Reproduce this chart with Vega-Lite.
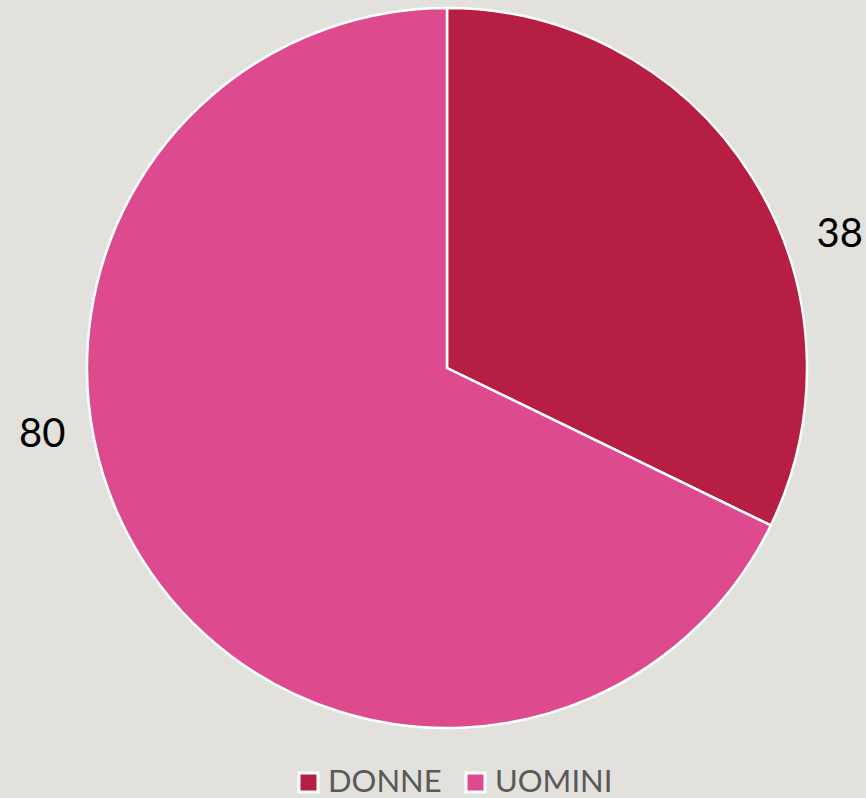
{
  "$schema": "https://vega.github.io/schema/vega-lite/v6.json",
  "width": 838,
  "height": 736,
  "autosize": "none",
  "padding": {"left": 28, "top": 0, "right": 0, "bottom": 62},
  "background": "#e3e1dc",
  "data": {"values": [
    {"genere": "DONNE", "valore": 38, "ord": 1},
    {"genere": "UOMINI", "valore": 80, "ord": 2}
  ]},
  "encoding": {
    "theta": {"field": "valore", "type": "quantitative", "stack": true},
    "order": {"field": "ord", "type": "quantitative"}
  },
  "layer": [
    {
      "mark": {"type": "arc", "radius": 360, "stroke": "white", "strokeWidth": 2.5},
      "encoding": {
        "color": {
          "field": "genere", "type": "nominal",
          "scale": {"domain": ["DONNE", "UOMINI"], "range": ["#b71e44", "#de4a8e"]},
          "legend": {
            "title": null, "orient": "none", "direction": "horizontal",
            "legendX": 265, "legendY": 767,
            "symbolType": "square", "symbolSize": 360,
            "symbolStrokeColor": "white", "symbolStrokeWidth": 3,
            "symbolOpacity": 1,
            "labelFont": "Lato", "labelFontSize": 31, "labelColor": "#595959",
            "labelOffset": 4, "columnPadding": 18
          }
        }
      }
    },
    {
      "mark": {"type": "text", "radius": 415, "dx": 41, "dy": 87, "font": "Lato", "fontSize": 40, "color": "black"},
      "encoding": {"text": {"condition": {"test": "datum.genere == 'DONNE'", "field": "valore", "type": "quantitative"}, "value": ""}}
    },
    {
      "mark": {"type": "text", "radius": 415, "dx": -53, "dy": -153, "font": "Lato", "fontSize": 40, "color": "black"},
      "encoding": {"text": {"condition": {"test": "datum.genere == 'UOMINI'", "field": "valore", "type": "quantitative"}, "value": ""}}
    }
  ]
}
